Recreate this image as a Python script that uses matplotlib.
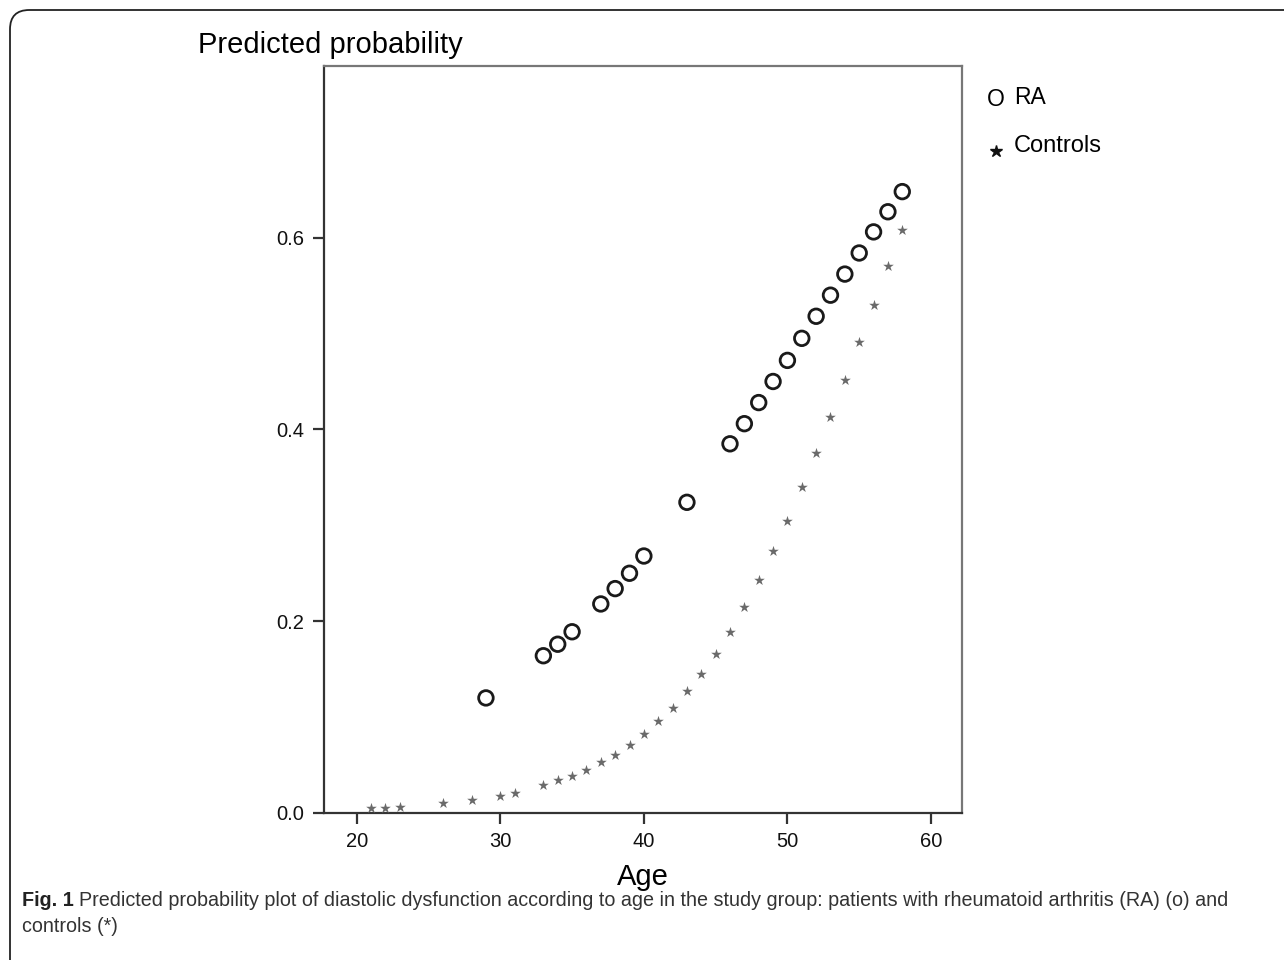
import matplotlib
matplotlib.use("Agg")
import matplotlib.pyplot as plt
from matplotlib.patches import FancyBboxPatch
from matplotlib.lines import Line2D

# ---- data ----
ra_age = [29, 33, 34, 35, 37, 38, 39, 40, 43, 46, 47, 48, 49, 50, 51, 52, 53, 54, 55, 56, 57, 58]
ra_prob = [0.120, 0.164, 0.176, 0.189, 0.218, 0.234, 0.250, 0.268, 0.324, 0.385, 0.406, 0.428,
           0.450, 0.472, 0.495, 0.518, 0.540, 0.562, 0.584, 0.606, 0.627, 0.648]

ctrl_age = [21, 22, 23, 26, 28, 30, 31, 33, 34, 35, 36, 37, 38, 39, 40, 41, 42, 43, 44, 45,
            46, 47, 48, 49, 50, 51, 52, 53, 54, 55, 56, 57, 58]
ctrl_prob = [0.005, 0.005, 0.006, 0.010, 0.0135, 0.018, 0.021, 0.029, 0.034, 0.039, 0.045,
             0.053, 0.061, 0.071, 0.082, 0.096, 0.110, 0.127, 0.145, 0.166, 0.189, 0.215,
             0.243, 0.273, 0.304, 0.340, 0.375, 0.413, 0.452, 0.491, 0.530, 0.570, 0.608]

x_ticks = [20, 30, 40, 50, 60]
y_ticks = [0.0, 0.2, 0.4, 0.6]
y_tick_labels = ["0.0", "0.2", "0.4", "0.6"]

W, H = 1284, 960
fig = plt.figure(figsize=(W / 100, H / 100), dpi=100)
plt.rcParams['font.family'] = ['Liberation Sans', 'DejaVu Sans']

# rounded border (only top/left visible)
border = FancyBboxPatch((10 / W, -0.05), 1.2, 1.05 - 10 / H,
                        boxstyle="round,pad=0,rounding_size=0.015",
                        transform=fig.transFigure, fill=False, edgecolor='#222222',
                        linewidth=1.3, mutation_aspect=W / H)
fig.patches.append(border)

ax = fig.add_axes([324 / W, 1 - 813 / H, (962 - 324) / W, (813 - 66) / H])
ax.set_xlim(17.72, 62.16)
ax.set_ylim(0.0, 0.779)

ax.scatter(ra_age, ra_prob, s=110, facecolors='none', edgecolors='#1a1a1a', linewidths=2.0, zorder=3)
ax.scatter(ctrl_age, ctrl_prob, s=65, marker='*', color='#6a6a6a', linewidths=0, zorder=3)

ax.set_xticks(x_ticks)
ax.set_xticklabels([str(t) for t in x_ticks])
ax.set_yticks(y_ticks)
ax.set_yticklabels(y_tick_labels)
ax.tick_params(axis='both', direction='out', length=8, width=1.6, color='#333333',
               labelsize=14.5, pad=6, labelcolor='#111111')

for side in ['left', 'bottom']:
    ax.spines[side].set_color('#333333')
    ax.spines[side].set_linewidth(1.6)
for side in ['top', 'right']:
    ax.spines[side].set_color('#777777')
    ax.spines[side].set_linewidth(1.6)

ax.set_xlabel("Age", fontsize=21, labelpad=8)
fig.text(198 / W, 1 - 45 / H, "Predicted probability", fontsize=21, ha='left', va='center')

# legend as text
fig.text(987 / W, 1 - 99 / H, "O", fontsize=16.5, ha='left', va='center')
fig.text(1014 / W, 1 - 98 / H, "RA", fontsize=16.5, ha='left', va='center')
fig.add_artist(Line2D([996 / W], [1 - 151 / H], marker='*', markersize=9, color='#111111',
                      transform=fig.transFigure, linestyle='none'))
fig.text(1014 / W, 1 - 146 / H, "Controls", fontsize=17, ha='left', va='center')

# caption
cap_font = ['Liberation Sans', 'DejaVu Sans']
y1 = 1 - 900 / H
t = fig.text(22 / W, y1, "Fig. 1", fontsize=14.2, fontweight='bold', ha='left', va='center',
             family=cap_font, color='#222222')
fig.canvas.draw()
bb = t.get_window_extent()
fig.text(bb.x1 / W + 5 / W, y1,
         "Predicted probability plot of diastolic dysfunction according to age in the study group: "
         "patients with rheumatoid arthritis (RA) (o) and",
         fontsize=14.2, ha='left', va='center', family=cap_font, color='#333333')
fig.text(22 / W, 1 - 926 / H, "controls (*)", fontsize=14.2, ha='left', va='center',
         family=cap_font, color='#333333')

fig.savefig("out.png", dpi=100)
